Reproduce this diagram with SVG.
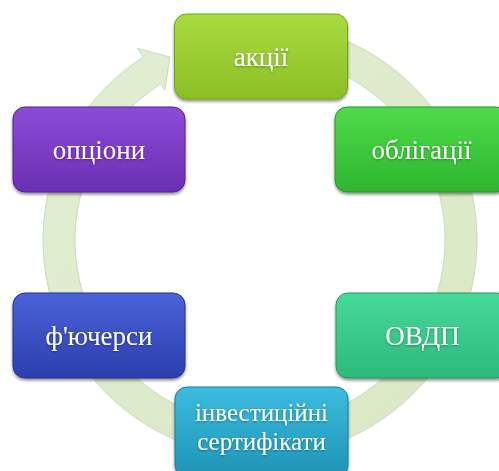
<svg xmlns="http://www.w3.org/2000/svg" width="499" height="471" viewBox="0 0 499 471">
<defs>
<linearGradient id="gA" x1="0" y1="0" x2="0" y2="1"><stop offset="0" stop-color="#a9db3e"/><stop offset="1" stop-color="#8bbf26"/></linearGradient>
<linearGradient id="gB" x1="0" y1="0" x2="0" y2="1"><stop offset="0" stop-color="#4cdc4a"/><stop offset="1" stop-color="#2fb52f"/></linearGradient>
<linearGradient id="gC" x1="0" y1="0" x2="0" y2="1"><stop offset="0" stop-color="#46da9a"/><stop offset="1" stop-color="#2cb97a"/></linearGradient>
<linearGradient id="gD" x1="0" y1="0" x2="0" y2="1"><stop offset="0" stop-color="#3bbde0"/><stop offset="1" stop-color="#1e93b4"/></linearGradient>
<linearGradient id="gE" x1="0" y1="0" x2="0" y2="1"><stop offset="0" stop-color="#4a62d8"/><stop offset="1" stop-color="#2c3fae"/></linearGradient>
<linearGradient id="gF" x1="0" y1="0" x2="0" y2="1"><stop offset="0" stop-color="#8c4cd8"/><stop offset="1" stop-color="#6a2fb2"/></linearGradient>
<linearGradient id="gR" x1="0" y1="0" x2="1" y2="1"><stop offset="0" stop-color="#e2eed2"/><stop offset="1" stop-color="#dae8c4"/></linearGradient>
<filter id="sh" x="-10%" y="-10%" width="120%" height="130%"><feDropShadow dx="0" dy="2" stdDeviation="1.5" flood-color="#000" flood-opacity="0.45"/></filter>
<filter id="ts" x="-10%" y="-20%" width="120%" height="140%"><feDropShadow dx="0" dy="1" stdDeviation="0.8" flood-color="#000" flood-opacity="0.35"/></filter>
</defs>
<style>
.box{stroke-width:1;filter:url(#sh)}
.lbl{font-family:"Liberation Serif","Times New Roman",serif;font-size:27px;fill:#ffffff;text-anchor:middle;filter:url(#ts)}
.sm{font-size:25px}
</style>
<g id="connectors">
<path d="M 297.7 26.3 A 217 217 0 1 1 143.4 57.0 L 137.6 48.4 L 170 57 L 164.8 90 L 160.6 84.0 A 185 185 0 1 0 292.1 57.8 Z" fill="url(#gR)" stroke="#cdd9bd" stroke-width="1"/>
</g>
<g id="n-akcii">
<rect class="box" x="174.5" y="14" width="173" height="85" rx="12" fill="url(#gA)" stroke="#74a21c"/>
<text class="lbl" x="261" y="66">акції</text>
</g>
<g id="n-obligacii">
<rect class="box" x="335" y="107" width="173" height="85" rx="12" fill="url(#gB)" stroke="#25982a"/>
<text class="lbl" x="421.5" y="159">облігації</text>
</g>
<g id="n-ovdp">
<rect class="box" x="336" y="293" width="173" height="85" rx="12" fill="url(#gC)" stroke="#239a66"/>
<text class="lbl" x="422.5" y="345">ОВДП</text>
</g>
<g id="n-invest">
<rect class="box" x="175" y="387" width="173" height="90" rx="12" fill="url(#gD)" stroke="#177e9c"/>
<text class="lbl sm" x="261.5" y="421">інвестиційні</text>
<text class="lbl sm" x="261.5" y="450">сертифікати</text>
</g>
<g id="n-futures">
<rect class="box" x="13" y="293" width="172" height="85" rx="12" fill="url(#gE)" stroke="#22348f"/>
<text class="lbl" x="99" y="345">ф'ючерси</text>
</g>
<g id="n-options">
<rect class="box" x="13" y="107" width="172" height="85" rx="12" fill="url(#gF)" stroke="#552494"/>
<text class="lbl" x="99" y="159">опціони</text>
</g>
</svg>
